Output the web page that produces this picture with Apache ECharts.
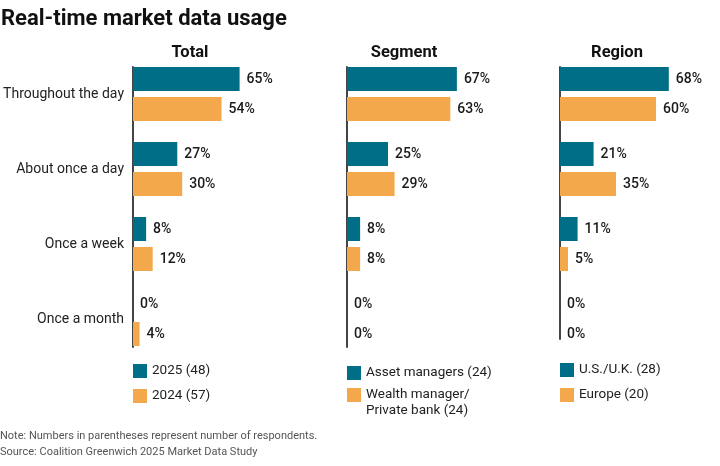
<!DOCTYPE html>
<html><head><meta charset="utf-8">
<script src="https://cdn.jsdelivr.net/npm/echarts@6/dist/echarts.min.js"></script>
<style>html,body{margin:0;padding:0;background:#fff}#c{width:720px;height:466px}</style>
</head><body><div id="c"></div>
<script>
const categories = ['Throughout the day', 'About once a day', 'Once a week', 'Once a month'];
const panelTitles = ['Total', 'Segment', 'Region'];
const total2025 = [65, 27, 8, 0];
const total2024 = [54, 30, 12, 4];
const segAsset = [67, 25, 8, 0];
const segWealth = [63, 29, 8, 0];
const regUSUK = [68, 21, 11, 0];
const regEurope = [60, 35, 5, 0];
const seriesNames = [
  ['2025 (48)', '2024 (57)'],
  ['Asset managers (24)', 'Wealth manager/\nPrivate bank (24)'],
  ['U.S./U.K. (28)', 'Europe (20)']
];
const panelData = [[total2025, total2024], [segAsset, segWealth], [regUSUK, regEurope]];

const TEAL = '#006E87', ORANGE = '#F2A84B';
const FONT = 'Roboto, "Liberation Sans", sans-serif';
const lefts = [133, 347, 560];
const W = 164;

const chart = echarts.init(document.getElementById('c'), null, {renderer: 'canvas'});
const grid = [], xAxis = [], yAxis = [], series = [], legend = [], title = [];

title.push({text: 'Real-time market data usage', left: 1, top: 8, padding: 0,
  textStyle: {fontFamily: FONT, fontSize: 22, fontWeight: 'bold', color: '#111'}});
const titleCenters = [190, 404, 617];
panelTitles.forEach((t, i) => {
  title.push({text: t, left: titleCenters[i], top: 44, textAlign: 'center', padding: 0,
    textStyle: {fontFamily: FONT, fontSize: 16.5, fontWeight: 'bold', color: '#111'}});
});
title.push({text: 'Note: Numbers in parentheses represent number of respondents.\nSource: Coalition Greenwich 2025 Market Data Study',
  left: 0, top: 428, padding: 0,
  textStyle: {fontFamily: FONT, fontSize: 11, color: '#555', lineHeight: 16, fontWeight: 'normal'}});

const legendText = {fontFamily: FONT, fontSize: 13.5, color: '#222', lineHeight: 16};
for (let p = 0; p < 3; p++) {
  grid.push({left: lefts[p], top: 56.5, width: W, height: 300});
  xAxis.push({type: 'value', gridIndex: 2 * p, min: 0, max: 100, show: false});
  yAxis.push({type: 'category', gridIndex: 2 * p, data: categories, inverse: true,
    axisLine: {show: false}, axisTick: {show: false},
    axisLabel: {show: p === 0, fontFamily: FONT, fontSize: 14, color: '#222', margin: 9}});
  grid.push({left: lefts[p], top: 67, width: W, height: p === 2 ? 272 : 280});
  xAxis.push({type: 'value', gridIndex: 2 * p + 1, show: false, min: 0, max: 100});
  yAxis.push({type: 'category', gridIndex: 2 * p + 1, data: categories, inverse: true,
    axisLine: {show: true, lineStyle: {color: '#444', width: 2}}, axisTick: {show: false}, axisLabel: {show: false}});
  const cols = [TEAL, ORANGE];
  for (let s = 0; s < 2; s++) {
    series.push({
      type: 'bar', name: seriesNames[p][s], xAxisIndex: 2 * p, yAxisIndex: 2 * p,
      data: panelData[p][s], barWidth: 24, barGap: '25%',
      itemStyle: {color: cols[s]},
      label: {show: true, position: 'right', distance: 7, formatter: '{c}%',
        fontFamily: FONT, fontSize: 14, fontWeight: 500, color: '#1a1a1a'},
      emphasis: {disabled: true}, animation: false
    });
  }
  if (p === 1) {
    legend.push({data: [seriesNames[p][0]], left: lefts[p], top: 365, orient: 'vertical', padding: 0,
      itemWidth: 14, itemHeight: 14, icon: 'rect', selectedMode: false, textStyle: legendText});
    legend.push({data: [seriesNames[p][1]], formatter: name => ' \n' + name,
      left: lefts[p], top: 371, orient: 'vertical', padding: 0,
      itemWidth: 14, itemHeight: 14, icon: 'rect', selectedMode: false, textStyle: legendText});
  } else {
    legend.push({data: seriesNames[p], left: lefts[p], top: p === 0 ? 363 : 362, orient: 'vertical', padding: 0,
      itemWidth: 14, itemHeight: 14, itemGap: 9, icon: 'rect', selectedMode: false, textStyle: legendText});
  }
}

chart.setOption({animation: false, title, grid, xAxis, yAxis, series, legend});
</script></body></html>
